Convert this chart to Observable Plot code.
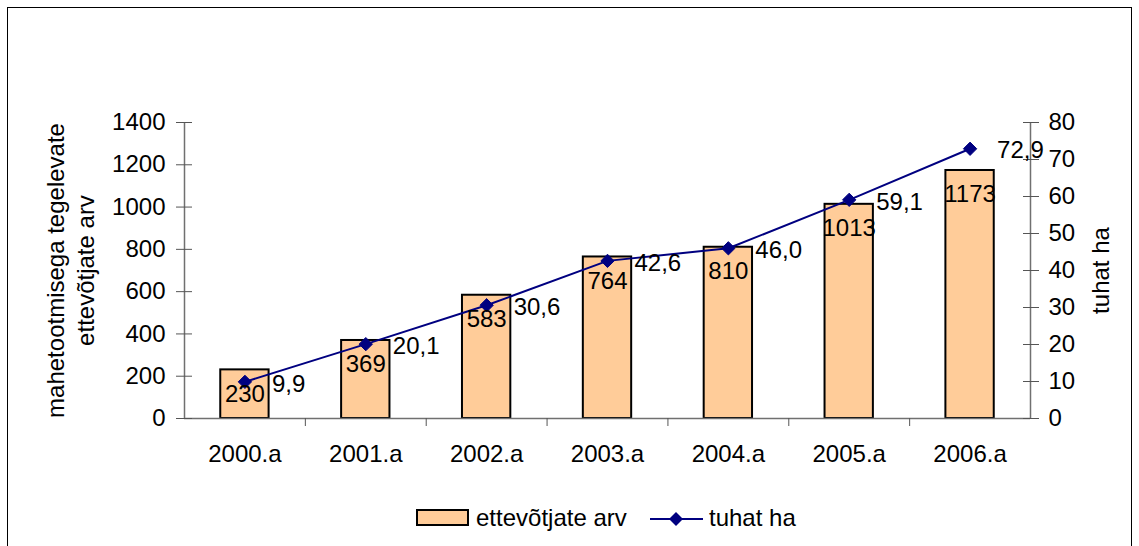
<!DOCTYPE html>
<html>
<head>
<meta charset="utf-8">
<script src="https://cdn.jsdelivr.net/npm/d3@7"></script>
<script src="https://cdn.jsdelivr.net/npm/@observablehq/plot@0.6"></script>
<style>
  body { margin: 0; background: #fff; overflow: hidden; font-family: "Liberation Sans", Arial, sans-serif; }
  #frame { position: absolute; left: 7px; top: 7px; width: 1125px; height: 600px; border: 1px solid #000; box-sizing: border-box; }
  #chart { position: absolute; left: 0; top: 0; }
  .lg { position: absolute; font-size: 24px; line-height: 24px; color: #000; white-space: nowrap; }
  #sw { position: absolute; left: 416px; top: 509px; width: 53px; height: 17px; box-sizing: border-box; background: #FFCC99; border: 2px solid #000; }
  #lineKey { position: absolute; left: 648px; top: 508px; }
</style>
</head>
<body>
<div id="frame"></div>
<div id="chart"></div>
<div id="sw"></div>
<div class="lg" style="left:476px; top:506px;">ettevõtjate arv</div>
<svg id="lineKey" width="58" height="22"><line x1="2" y1="11" x2="55" y2="11" stroke="#000080" stroke-width="2"/><path d="M28,4 L35,11 L28,18 L21,11 Z" fill="#000080"/></svg>
<div class="lg" style="left:709px; top:506px;">tuhat ha</div>
<script>
const years = ["2000.a", "2001.a", "2002.a", "2003.a", "2004.a", "2005.a", "2006.a"];
const companies = [230, 369, 583, 764, 810, 1013, 1173];
const hectares = [9.9, 20.1, 30.6, 42.6, 46.0, 59.1, 72.9];
const leftTicks = [0, 200, 400, 600, 800, 1000, 1200, 1400];
const rightTicks = [0, 10, 20, 30, 40, 50, 60, 70, 80];
const leftTitle = "mahetootmisega tegelevate\nettevõtjate arv";
const rightTitle = "tuhat ha";

const K = 1400 / 80; // right axis (0–80) mapped onto left axis (0–1400)
const data = years.map((year, i) => ({ i, year, companies: companies[i], ha: hectares[i] }));
const fmtHa = v => v.toFixed(1).replace(".", ",");
const boundaries = years.slice(1).map((_, i) => i + 0.5);

const chart = Plot.plot({
  width: 1139,
  height: 490,
  marginLeft: 184,
  marginRight: 109,
  marginTop: 122,
  marginBottom: 72,
  style: { fontFamily: "'Liberation Sans', Arial, sans-serif", fontSize: "24px", color: "#000", background: "transparent", overflow: "visible" },
  x: { type: "linear", domain: [-0.5, years.length - 0.5] },
  y: { domain: [0, 1400] },
  marks: [
    Plot.rectY(data, { x1: d => d.i - 0.2, x2: d => d.i + 0.2, y1: 0, y2: "companies", fill: "#FFCC99", stroke: "#000", strokeWidth: 2 }),
    Plot.ruleY([0], { stroke: "#707070", strokeWidth: 1.5 }),
    Plot.ruleX([-0.5, years.length - 0.5], { y1: 0, y2: 1400, stroke: "#707070", strokeWidth: 1.5 }),
    Plot.axisY({ anchor: "left", ticks: leftTicks, tickFormat: v => String(v), tickSize: 16, dx: 8, tickPadding: 11, label: null, stroke: "#555", fill: "#000", fontSize: 24 }),
    Plot.axisY({ anchor: "right", ticks: rightTicks.map(v => v * K), tickFormat: v => String(Math.round(v / K)), tickSize: 16, dx: -8, tickPadding: 10, label: null, stroke: "#555", fill: "#000", fontSize: 24 }),
    Plot.axisX({ ticks: data.map(d => d.i), tickFormat: i => years[i], tickSize: 0, tickPadding: 26, label: null, fill: "#000", fontSize: 24 }),
    Plot.axisX({ ticks: boundaries, tickFormat: () => "", tickSize: 8, label: null, stroke: "#555" }),
    Plot.line(data, { x: "i", y: d => d.ha * K, stroke: "#000080", strokeWidth: 2 }),
    Plot.dot(data, { x: "i", y: d => d.ha * K, symbol: "diamond2", r: 6, fill: "#000080", stroke: "#000080", strokeWidth: 1 }),
    Plot.text(data, { x: "i", y: "companies", text: d => String(d.companies), dy: 24, fontSize: 24, fill: "#000" }),
    Plot.text(data, { x: "i", y: d => d.ha * K, text: d => fmtHa(d.ha), textAnchor: "start", dx: 27, dy: 2, fontSize: 24, fill: "#000" }),
    Plot.text([leftTitle], { frameAnchor: "left", textAnchor: "middle", lineAnchor: "middle", rotate: -90, dx: -115, lineHeight: 1.25, fontSize: 24, fill: "#000" }),
    Plot.text([rightTitle], { frameAnchor: "right", textAnchor: "middle", lineAnchor: "middle", rotate: -90, dx: 71, fontSize: 24, fill: "#000" })
  ]
});
document.getElementById("chart").appendChild(chart);
</script>
</body>
</html>
